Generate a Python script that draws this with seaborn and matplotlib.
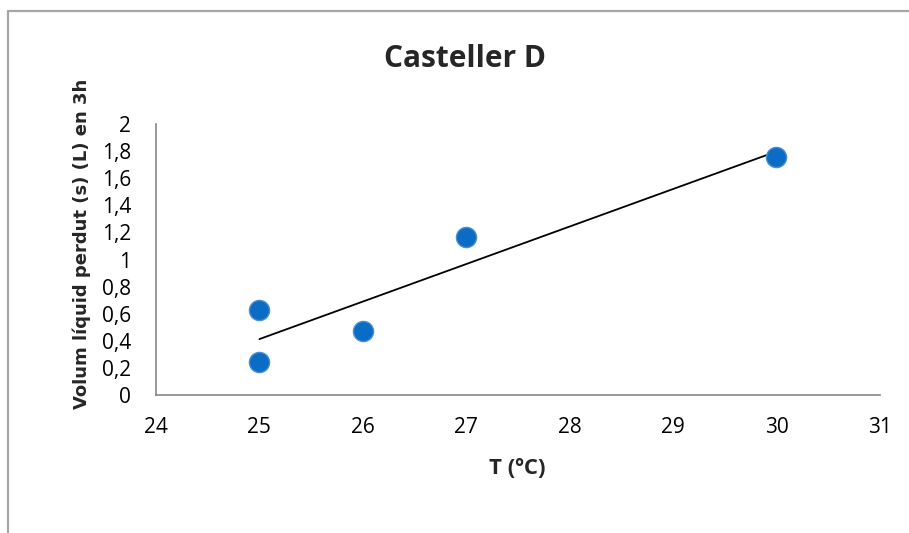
import numpy as np
import pandas as pd
import matplotlib
matplotlib.use("Agg")
import matplotlib.pyplot as plt
from matplotlib import ticker
import seaborn as sns

temps = [25, 25, 26, 27, 30]
volums = [0.63, 0.245, 0.475, 1.17, 1.76]

df = pd.DataFrame({"T (ºC)": temps, "Volum": volums})

sns.set_style("white")
plt.rcParams['font.family'] = ['Open Sans', 'DejaVu Sans']

fig = plt.figure(figsize=(9.09, 5.33), dpi=100)
ax = fig.add_axes([0.1716, 0.259, 0.7964, 0.508])

sns.regplot(x="T (ºC)", y="Volum", data=df, ax=ax, scatter=False, ci=None,
            truncate=True, line_kws={'color': 'black', 'lw': 1.3})
sns.scatterplot(x="T (ºC)", y="Volum", data=df, ax=ax, s=210, color='#0A6CC4',
                edgecolor='#4A8FD6', linewidth=1.0, zorder=3)

ax.set_xlim(24, 31)
ax.set_ylim(0, 2)
ax.xaxis.set_major_locator(ticker.MultipleLocator(1))
ax.yaxis.set_major_locator(ticker.MultipleLocator(0.2))
ax.yaxis.set_major_formatter(ticker.FuncFormatter(
    lambda v, pos: ('%g' % round(v, 1)).replace('.', ',')))

for s in ['top', 'right']:
    ax.spines[s].set_visible(False)
for s in ['left', 'bottom']:
    ax.spines[s].set_color('#868686')
    ax.spines[s].set_linewidth(1.2)
ax.tick_params(axis='both', direction='out', length=7, width=1.2, color='#868686',
               labelsize=15, labelcolor='black')
ax.tick_params(axis='x', pad=9)
ax.tick_params(axis='y', pad=11)

ax.set_xlabel("T (ºC)", fontsize=16, fontweight='bold')
ax.xaxis.set_label_coords(0.499, -0.232)
ax.set_ylabel("Volum líquid perdut (s) (L) en 3h", fontsize=13, fontweight='bold',
              family='DejaVu Sans')
ax.yaxis.set_label_coords(-0.09, 0.559)
fig.text(0.512, 0.874, "Casteller D", fontsize=21.5, fontweight='bold',
         ha='center', va='baseline')

# chart frame
fig.add_artist(plt.Line2D([0.0088, 0.0088], [0.0, 0.979], color='#A6A6A6', lw=1.6))
fig.add_artist(plt.Line2D([0.0088, 1.0], [0.979, 0.979], color='#A6A6A6', lw=1.6))

fig.savefig("out.png", dpi=100)
